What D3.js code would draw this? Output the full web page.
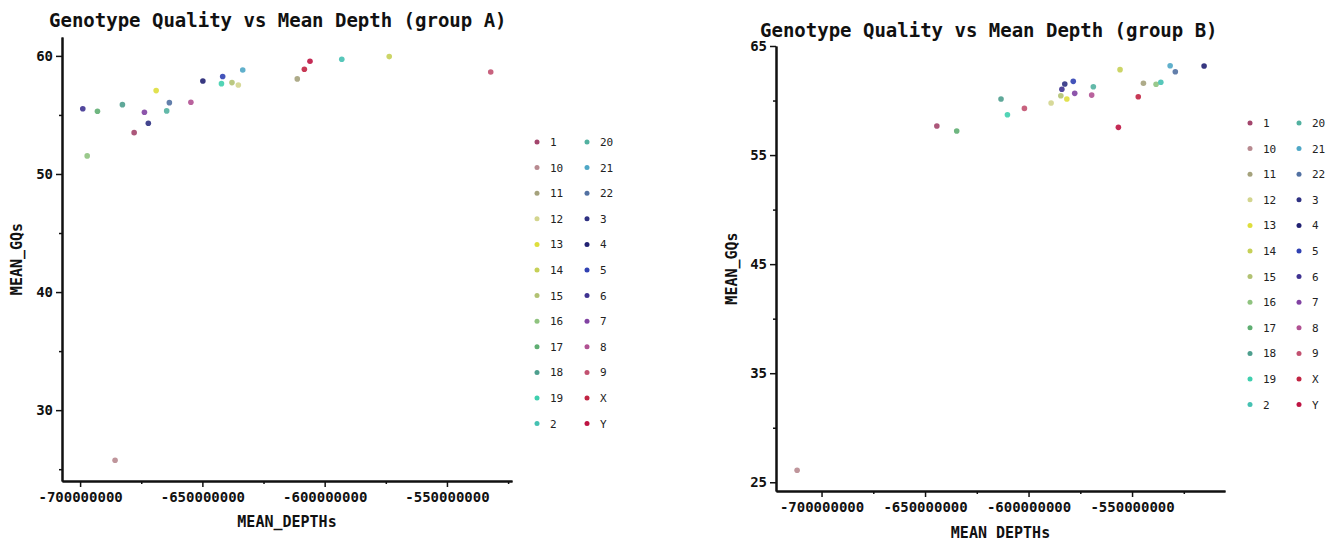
<!DOCTYPE html>
<html>
<head>
<meta charset="utf-8">
<script src="https://cdn.jsdelivr.net/npm/d3@7"></script>
<style>
  body { margin:0; background:#fff; }
  svg { display:block; font-family:"DejaVu Sans Mono", monospace; }
  .title { font-size:19px; font-weight:bold; fill:#111; }
  .axis text { font-size:14px; font-weight:bold; fill:#111; font-family:"DejaVu Sans Mono", monospace; }
  .axis path, .axis line { stroke:#111; }
  .axis path { stroke-width:2; }
  .axis line { stroke-width:1.5; }
  .alabel { font-size:15px; font-weight:bold; fill:#111; }
  .leg text { font-size:11px; fill:#222; }
</style>
</head>
<body>
<svg id="chart" width="1331" height="541"></svg>
<script>
/* ---- group A ---- */
const chromA = ["6","17","16","18","1","7","3","13","20","22","8","4",
                "19","5","15","12","21","11","X","Y","2","14","9","10"];
const depthA = [-698.9,-692.9,-697.1,-682.7,-677.9,-673.7,-672.1,-668.9,-664.6,-663.5,-654.7,-649.8,
                -642.2,-641.7,-637.9,-635.3,-633.5,-611.2,-608.3,-606.0,-593.0,-573.6,-532.1,-685.7].map(v=>v*1e6);
const gqA    = [55.53,55.31,51.53,55.87,53.5,55.23,54.3,57.06,55.34,56.04,56.08,57.88,
                57.65,58.25,57.74,57.54,58.81,58.05,58.87,59.55,59.72,59.94,58.64,25.76];

/* ---- group B ---- */
const chromB = ["1","17","18","19","9","12","15","6","3","13","5","7",
                "8","20","Y","14","X","11","16","2","21","22","4","10"];
const depthB = [-644.3,-634.7,-613.3,-610.2,-602.0,-589.1,-584.4,-583.9,-582.5,-581.5,-578.4,-577.7,
                -569.5,-568.7,-556.6,-555.8,-547.0,-544.5,-538.4,-536.1,-531.6,-529.1,-515.2,-711.8].map(v=>v*1e6);
const gqB    = [57.66,57.2,60.14,58.7,59.28,59.77,60.44,61.03,61.51,60.14,61.76,60.66,
                60.5,61.27,57.54,62.83,60.35,61.58,61.49,61.67,63.19,62.64,63.17,26.1];

/* legend order (string sort) and tick values */
const legendCol1 = ["1","10","11","12","13","14","15","16","17","18","19","2"];
const legendCol2 = ["20","21","22","3","4","5","6","7","8","9","X","Y"];
const colors = {
  "1":"#a3456c","10":"#b88a90","11":"#a5a27c","12":"#d3d58e","13":"#dede3c","14":"#c6d057",
  "15":"#b2c273","16":"#8fc37f","17":"#5fae72","18":"#4e9f8e","19":"#3fcfae","2":"#45c1b2",
  "20":"#52b1a0","21":"#4fa7c6","22":"#5271a2","3":"#2f3182","4":"#212172","5":"#3041b2",
  "6":"#3f3391","7":"#8142a2","8":"#b15192","9":"#c25170","X":"#c12442","Y":"#be1443"
};
const xMajor = [-700e6,-650e6,-600e6,-550e6];
const xMinor = [-675e6,-625e6,-575e6,-525e6];
const yMajorA = [30,40,50,60], yMinorA = [25,35,45,55];
const yMajorB = [25,35,45,55,65], yMinorB = [30,40,50,60];

const svg = d3.select("#chart");

function panel(o){
  const x = d3.scaleLinear().domain(o.xDom).range([o.x0, o.x1]);
  const y = d3.scaleLinear().domain(o.yDom).range([o.y1, o.y0]);
  const g = svg.append("g");

  g.append("text").attr("class","title").attr("x",o.titleX).attr("y",o.titleY).text(o.title);

  /* minor ticks first, then major axis with labels */
  g.append("g").attr("class","axis").attr("transform",`translate(0,${o.y1})`)
    .call(d3.axisBottom(x).tickValues(xMinor).tickSize(3).tickSizeOuter(0).tickFormat(""));
  g.append("g").attr("class","axis").attr("transform",`translate(0,${o.y1})`)
    .call(d3.axisBottom(x).tickValues(xMajor).tickSize(6).tickSizeOuter(0).tickPadding(5)
      .tickFormat(d=>String(d)));
  g.append("g").attr("class","axis").attr("transform",`translate(${o.x0},0)`)
    .call(d3.axisLeft(y).tickValues(o.yMinor).tickSize(3).tickSizeOuter(0).tickFormat(""));
  g.append("g").attr("class","axis").attr("transform",`translate(${o.x0},0)`)
    .call(d3.axisLeft(y).tickValues(o.yMajor).tickSize(6).tickSizeOuter(0).tickPadding(3)
      .tickFormat(d=>String(d)));

  g.append("text").attr("class","alabel").attr("text-anchor","middle")
    .attr("x",(o.x0+o.x1)/2).attr("y",o.xLabY).text(o.xLab);
  g.append("text").attr("class","alabel").attr("text-anchor","middle")
    .attr("transform",`translate(${o.yLabX},${(o.y0+o.y1)/2}) rotate(-90)`).text("MEAN_GQs");

  g.append("g").selectAll("circle").data(o.chrom.map((c,i)=>({c, d:o.depth[i], q:o.gq[i]})))
    .join("circle")
    .attr("cx",d=>x(d.d)).attr("cy",d=>y(d.q)).attr("r",2.8)
    .attr("fill",d=>colors[d.c]).attr("fill-opacity",0.9);

  const leg = g.append("g").attr("class","leg");
  [legendCol1, legendCol2].forEach((col,ci)=>{
    col.forEach((c,ri)=>{
      const cx = o.legX + ci*o.legColW, cy = o.legY + ri*25.6;
      leg.append("circle").attr("cx",cx).attr("cy",cy).attr("r",2.5).attr("fill",colors[c]);
      leg.append("text").attr("x",cx+13).attr("y",cy+4).text(c);
    });
  });
}

panel({
  title:"Genotype Quality vs Mean Depth (group A)", titleX:49, titleY:27,
  x0:62, x1:512, y0:37, y1:481,
  xDom:[-707.4e6,-523.4e6], yDom:[24.0,61.6],
  yMajor:yMajorA, yMinor:yMinorA,
  xLab:"MEAN_DEPTHs", xLabY:527, yLabX:22,
  chrom:chromA, depth:depthA, gq:gqA,
  legX:537, legColW:50, legY:142
});

panel({
  title:"Genotype Quality vs Mean Depth (group B)", titleX:760, titleY:37,
  x0:776, x1:1225, y0:46, y1:491,
  xDom:[-722.0e6,-505.1e6], yDom:[24.2,65],
  yMajor:yMajorB, yMinor:yMinorB,
  xLab:"MEAN DEPTHs", xLabY:538, yLabX:737,
  chrom:chromB, depth:depthB, gq:gqB,
  legX:1250, legColW:49, legY:123
});
</script>
</body>
</html>
